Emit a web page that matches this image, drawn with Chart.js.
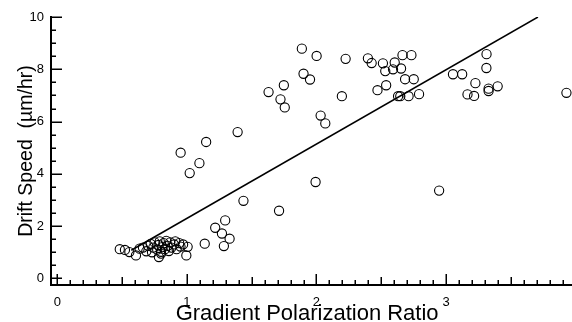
<!DOCTYPE html>
<html><head><meta charset="utf-8">
<script src="https://cdn.jsdelivr.net/npm/chart.js@4.4.0/dist/chart.umd.min.js"></script>
<style>
html,body{margin:0;padding:0;overflow:hidden;background:#fff;width:572px;height:322px}
#wrap{position:absolute;left:0;top:0;width:590px;height:330px}
</style></head><body><div id="wrap"><canvas id="c" width="590" height="330"></canvas></div>
<script>
// Scatter points: gradient polarization ratio vs drift speed
const pointX = [
  1.887, 2.001, 2.225, 2.397, 2.426, 2.513, 2.604, 2.664, 2.733, 2.531,
  2.591, 2.653, 2.684, 2.751, 1.900, 1.950, 1.630, 1.748, 1.722, 1.755,
  2.196, 2.471, 2.538, 2.630, 2.647, 2.711, 2.792, 2.032, 2.068, 3.313,
  3.312, 3.054, 3.125, 3.227, 3.166, 3.217, 3.329, 3.329, 3.399, 3.930,
  1.391, 1.148, 0.951, 1.096, 1.021, 1.993, 1.436, 2.947, 1.711, 1.295,
  1.218, 1.270, 1.329, 1.137, 1.285,
  0.481, 0.521, 0.555, 0.606, 0.634, 0.686, 0.783, 0.995, 1.005,
  0.66, 0.70, 0.72, 0.73, 0.74, 0.75, 0.77, 0.78, 0.79, 0.80,
  0.80, 0.81, 0.82, 0.83, 0.84, 0.85, 0.86, 0.87, 0.88, 0.90,
  0.91, 0.92, 0.94, 0.95, 0.97
];
const pointY = [
  8.79, 8.51, 8.40, 8.42, 8.24, 8.23, 8.26, 8.54, 8.54, 7.93,
  8.00, 8.03, 7.62, 7.62, 7.83, 7.61, 7.13, 7.39, 6.85, 6.54,
  6.97, 7.20, 7.39, 6.97, 6.97, 6.97, 7.05, 6.23, 5.93, 8.58,
  8.05, 7.81, 7.81, 7.47, 7.04, 6.98, 7.26, 7.17, 7.35, 7.10,
  5.60, 5.22, 4.81, 4.41, 4.03, 3.69, 2.97, 3.36, 2.59, 2.22,
  1.94, 1.72, 1.52, 1.33, 1.24,
  1.12, 1.09, 1.01, 0.88, 1.14, 1.04, 0.82, 0.88, 1.21,
  1.18, 1.25, 1.32, 1.00, 1.18, 1.38, 1.10, 1.28, 1.42, 1.02,
  0.95, 1.20, 1.35, 1.12, 1.44, 1.25, 1.05, 1.38, 1.18, 1.30,
  1.42, 1.12, 1.35, 1.22, 1.30
];
// Fitted line end points
const fitX = [0.57, 3.71];
const fitY = [1.08, 10];
// Axis tick labels
const xTickValues = [0, 1, 2, 3, 4];
const yTickValues = [0, 2, 4, 6, 8, 10];
const xTitle = 'Gradient Polarization Ratio  ';
const yTitle = 'Drift Speed  (µm/hr)';

const points = pointX.map((x, i) => ({x: x, y: pointY[i]}));
const fit = fitX.map((x, i) => ({x: x, y: fitY[i]}));

const tickMarks = {
  id: 'tickMarks',
  afterDatasetsDraw(chart) {
    const ctx = chart.ctx;
    const xs = chart.scales.x, ys = chart.scales.y;
    const ca = chart.chartArea;
    ctx.save();
    ctx.strokeStyle = '#000';
    ctx.lineWidth = 1.5;
    ctx.beginPath();
    for (let i = 0; i <= 40; i++) {
      const px = Math.round(xs.getPixelForValue(i / 10)) + 0.25;
      const len = i % 10 === 0 ? 11 : (i % 5 === 0 ? 8 : 5);
      ctx.moveTo(px, ca.bottom);
      ctx.lineTo(px, ca.bottom - len);
    }
    for (let i = 0; i <= 20; i++) {
      const py = Math.round(ys.getPixelForValue(i / 2)) + 0.25;
      const len = i % 4 === 0 ? 11 : 5;
      ctx.moveTo(ca.left, py);
      ctx.lineTo(ca.left + len, py);
    }
    ctx.stroke();
    ctx.restore();
  }
};

Chart.defaults.font.family = "'Liberation Sans', Arial, sans-serif";
Chart.defaults.color = '#000';

new Chart(document.getElementById('c'), {
  type: 'scatter',
  data: {
    datasets: [
      {
        data: points,
        showLine: false,
        pointStyle: 'circle',
        pointRadius: 4.6,
        pointBorderWidth: 1.1,
        pointBorderColor: '#000',
        pointBackgroundColor: 'rgba(255,255,255,0)',
        borderColor: '#000',
        backgroundColor: 'rgba(255,255,255,0)'
      },
      {
        type: 'line',
        data: fit,
        borderColor: '#000',
        borderWidth: 1.5,
        pointRadius: 0,
        fill: false
      }
    ]
  },
  options: {
    responsive: false,
    devicePixelRatio: 1,
    animation: false,
    events: [],
    layout: {padding: {top: 17, right: 14.5, left: 0, bottom: 0}},
    plugins: {legend: {display: false}, tooltip: {enabled: false}},
    scales: {
      x: {
        type: 'linear',
        min: -0.05,
        max: 4,
        afterBuildTicks: s => { s.ticks = xTickValues.map(v => ({value: v})); },
        afterFit: s => { s.height = 45; },
        grid: {display: false, drawTicks: false},
        border: {display: true, color: '#000', width: 2},
        ticks: {font: {size: 13}, padding: 10, maxRotation: 0, autoSkip: false, color: '#000',
                callback: v => String(v)},
        title: {display: true, text: xTitle, font: {size: 22}, color: '#000',
                padding: {top: 0, bottom: 2.8}}
      },
      y: {
        type: 'linear',
        min: -0.25,
        max: 10,
        afterBuildTicks: s => { s.ticks = yTickValues.map(v => ({value: v})); },
        afterFit: s => { s.width = 51; },
        grid: {display: false, drawTicks: false},
        border: {display: true, color: '#000', width: 2},
        ticks: {font: {size: 13}, padding: 7, autoSkip: false, color: '#000',
                callback: v => String(v)},
        title: {display: true, text: yTitle, font: {size: 19.5}, color: '#000',
                padding: {top: 14.5, bottom: 0}}
      }
    }
  },
  plugins: [tickMarks]
});
</script></body></html>
